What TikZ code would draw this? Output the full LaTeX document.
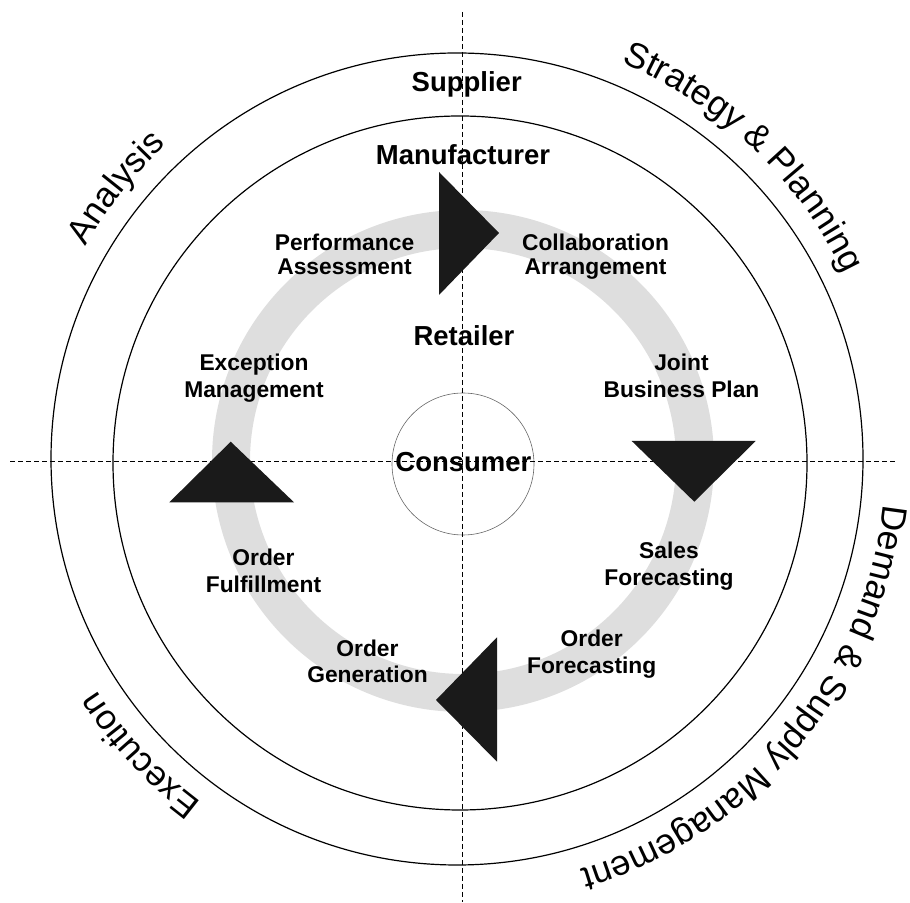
\documentclass[tikz,border=0pt]{standalone}
\usepackage{fontspec}
\setmainfont{Liberation Sans}
\usetikzlibrary{calc}
\definecolor{ringgray}{HTML}{DEDEDE}
\definecolor{trifill}{HTML}{1A1A1A}
% #1 centre coordinate, #2 baseline radius (pt), #3 middle angle, #4 font size (pt), #5 list char/advance(em)
\newcommand{\arctext}[5]{%
  \gdef\arcacc{0}%
  \foreach \ch/\w in {#5}{\pgfmathsetmacro{\tmpacc}{\arcacc+\w}\xdef\arcacc{\tmpacc}}%
  \pgfmathsetmacro{\tmpstart}{#3 + deg(\arcacc*#4/#2)/2}%
  \xdef\arcstart{\tmpstart}%
  \gdef\arcacc{0}%
  \foreach \ch/\w in {#5}{%
    \pgfmathsetmacro{\ang}{\arcstart - deg((\arcacc+0.5*\w)*#4/#2)}%
    \node[rotate=\ang-90, inner sep=0pt, anchor=base] at ($(#1)+(\ang:#2pt)$) {\fontsize{#4}{#4}\selectfont\ch};
    \pgfmathsetmacro{\tmpacc}{\arcacc+\w}\xdef\arcacc{\tmpacc}%
  }%
}
\begin{document}
\begin{tikzpicture}[x=1pt,y=1pt,
  circ/.style={draw=black, line width=1.2pt},
  thincirc/.style={draw=black!60, line width=0.6pt},
  axis/.style={draw=black, dash pattern=on 5pt off 3pt, line width=0.9pt},
  tri/.style={fill=trifill, draw=none},
  lbl/.style={font=\fontsize{22.8}{26}\selectfont\bfseries, anchor=base, inner sep=0pt},
  big/.style={font=\fontsize{27.5}{30}\selectfont\bfseries, anchor=base, inner sep=0pt}
]
\useasboundingbox (0,0) rectangle (910,902);

% centres
\coordinate (co) at (457,443);
\coordinate (ci) at (460,439);
\coordinate (cr) at (463,441);
\coordinate (cs) at (463,438);

% grey cycle ring
\fill[ringgray, even odd rule] (cr) circle[radius=251pt] (cr) circle[radius=213pt];

% circles
\draw[circ] (co) circle[radius=406pt];
\draw[circ] (ci) circle[radius=347pt];
\draw[thincirc] (cs) circle[radius=71pt];

% outer curved texts (clockwise, tops outward)
\arctext{co}{429}{46.5}{35.5}{S/0.667,t/0.278,r/0.333,a/0.556,t/0.278,e/0.556,g/0.556,y/0.5,\space/0.278,\&/0.667,\space/0.278,P/0.667,l/0.222,a/0.556,n/0.556,n/0.556,i/0.222,n/0.556,g/0.556}
\arctext{co}{428}{141.5}{35}{A/0.667,n/0.556,a/0.556,l/0.222,y/0.5,s/0.5,i/0.222,s/0.5}
\arctext{co}{429}{-39.7}{35.5}{D/0.722,e/0.556,m/0.833,a/0.556,n/0.556,d/0.556,\space/0.278,\&/0.667,\space/0.278,S/0.667,u/0.556,p/0.556,p/0.556,l/0.222,y/0.5,\space/0.278,M/0.833,a/0.556,n/0.556,a/0.556,g/0.556,e/0.556,m/0.833,e/0.556,n/0.556,t/0.278}
\arctext{co}{428}{-137}{35}{E/0.667,x/0.5,e/0.556,c/0.5,u/0.556,t/0.278,i/0.222,o/0.556,n/0.556}

% tier labels
\node[big] (supplier) at (466.7,810.3) {Supplier};
\node[big] (manufacturer) at (463,737) {Manufacturer};
\node[big] (retailer) at (464,556) {Retailer};
\node[big] (consumer) at (463.4,430.3) {Consumer};

% process labels
\node[lbl] (perfA) at (344.5,651.3) {Performance};
\node[lbl] (perfB) at (344.5,627) {Assessment};
\node[lbl] (collA) at (595.5,651.3) {Collaboration};
\node[lbl] (collB) at (595.5,627) {Arrangement};
\node[lbl] (excA) at (254,531.3) {Exception};
\node[lbl] (excB) at (254,504.7) {Management};
\node[lbl] (jbpA) at (681.5,531.3) {Joint};
\node[lbl] (jbpB) at (681.5,504.7) {Business Plan};
\node[lbl] (salA) at (669,343) {Sales};
\node[lbl] (salB) at (669,316.3) {Forecasting};
\node[lbl] (ofcA) at (591.7,255.3) {Order};
\node[lbl] (ofcB) at (591.7,228.7) {Forecasting};
\node[lbl] (ogenA) at (367.5,245.3) {Order};
\node[lbl] (ogenB) at (367.5,219.7) {Generation};
\node[lbl] (ofulA) at (263.5,336) {Order};
\node[lbl] (ofulB) at (263.5,309.3) {Fulfillment};

% dashed axes
\coordinate (vtop) at (462.6,890);
\coordinate (vbot) at (462.6,0);
\coordinate (hleft) at (10,441);
\coordinate (hright) at (897,441);
\draw[axis] (vtop) -- (vbot);
\draw[axis] (hleft) -- (hright);

% direction triangles
\fill[tri] (439,730) -- (439,607) -- (499,669) -- cycle;
\fill[tri] (631.7,461) -- (755.7,461) -- (694.3,400.3) -- cycle;
\fill[tri] (230.7,460.3) -- (169.3,399.7) -- (294,399.7) -- cycle;
\fill[tri] (497,264.7) -- (497,140.3) -- (436,202) -- cycle;
\end{tikzpicture}
\end{document}
